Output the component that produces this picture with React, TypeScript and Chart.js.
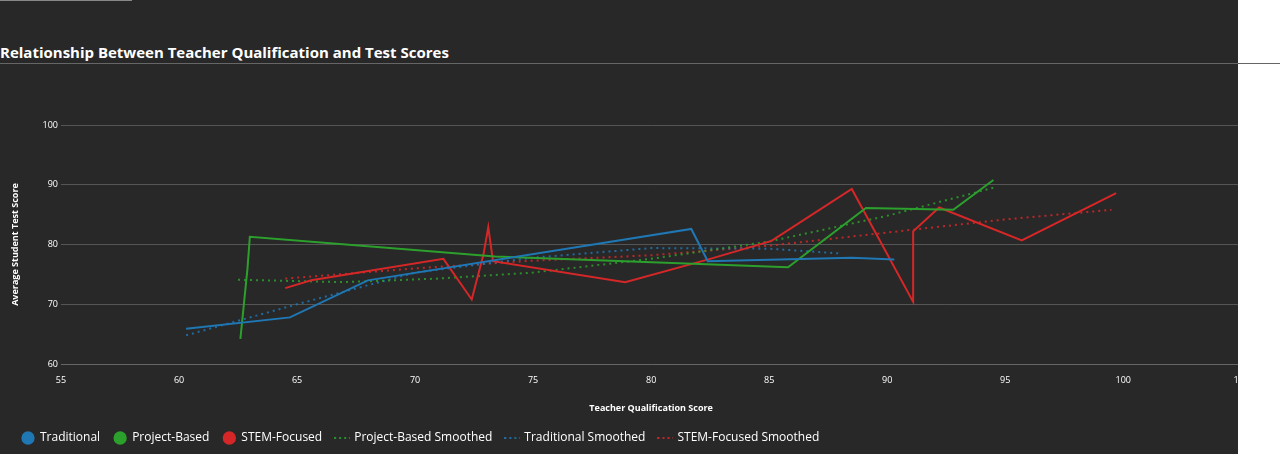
import React from "react"
import { Chart, registerables } from "chart.js"

Chart.register(...registerables)

const traditional = [
  { x: 60.3, y: 65.9 }, { x: 64.7, y: 67.8 }, { x: 68.0, y: 74.0 }, { x: 81.7, y: 82.6 },
  { x: 82.4, y: 77.2 }, { x: 88.5, y: 77.8 }, { x: 90.3, y: 77.5 },
]
const projectBased = [
  { x: 62.6, y: 64.2 }, { x: 62.9, y: 76.0 }, { x: 63.0, y: 81.3 }, { x: 73.4, y: 78.0 },
  { x: 85.8, y: 76.2 }, { x: 89.1, y: 86.1 }, { x: 92.8, y: 85.8 }, { x: 94.5, y: 90.8 },
]
const stemFocused = [
  { x: 64.5, y: 72.7 }, { x: 65.6, y: 74.0 }, { x: 71.2, y: 77.6 }, { x: 72.4, y: 70.8 },
  { x: 72.9, y: 78.4 }, { x: 73.1, y: 82.9 }, { x: 73.3, y: 77.2 }, { x: 78.9, y: 73.7 },
  { x: 82.5, y: 77.6 }, { x: 85.1, y: 80.6 }, { x: 88.5, y: 89.3 }, { x: 91.1, y: 70.4 },
  { x: 91.1, y: 82.2 }, { x: 92.2, y: 86.2 }, { x: 95.7, y: 80.7 }, { x: 99.7, y: 88.6 },
]
const projectSmoothed = [
  { x: 62.5, y: 74.1 }, { x: 67, y: 73.7 }, { x: 71, y: 74.3 }, { x: 75, y: 75.3 },
  { x: 80, y: 77.6 }, { x: 85, y: 80.5 }, { x: 90, y: 84.8 }, { x: 94.5, y: 89.5 },
]
const traditionalSmoothed = [
  { x: 60.3, y: 64.8 }, { x: 65, y: 70.0 }, { x: 70, y: 75.3 }, { x: 75, y: 77.8 },
  { x: 80, y: 79.4 }, { x: 85, y: 79.3 }, { x: 88, y: 78.5 },
]
const stemSmoothed = [
  { x: 64.5, y: 74.3 }, { x: 70, y: 76.0 }, { x: 75, y: 77.3 }, { x: 80, y: 78.2 },
  { x: 85, y: 79.8 }, { x: 90, y: 82.0 }, { x: 95, y: 84.2 }, { x: 99.5, y: 85.8 },
]

const BLUE = "#1f77b4"
const GREEN = "#2ca02c"
const RED = "#d62728"
const FONT = "'Open Sans', 'DejaVu Sans', sans-serif"

// small dashed swatch for the legend
const dashIcon = (color: string) => {
  const c = document.createElement("canvas")
  c.width = 16
  c.height = 4
  const ctx = c.getContext("2d")!
  ctx.strokeStyle = color
  ctx.lineWidth = 2
  ctx.setLineDash([2, 3])
  ctx.beginPath()
  ctx.moveTo(0, 2)
  ctx.lineTo(16, 2)
  ctx.stroke()
  return c
}

const solid = (label: string, data: any, color: string) => ({
  label, data, borderColor: color, backgroundColor: color, borderWidth: 2,
  pointRadius: 0, pointStyle: "circle", tension: 0,
})
const dotted = (label: string, data: any, color: string) => ({
  label, data, borderColor: color, backgroundColor: color, borderWidth: 2,
  borderDash: [2, 4], pointRadius: 0, pointStyle: dashIcon(color), tension: 0,
})

const ScoreChart = () => {
  const ref = React.useRef<HTMLCanvasElement>(null)

  React.useEffect(() => {
    if (ref.current == null) return
    const chart = new Chart(ref.current, {
      type: "line",
      data: {
        datasets: [
          solid("Traditional", traditional, BLUE),
          solid("Project-Based", projectBased, GREEN),
          solid("STEM-Focused", stemFocused, RED),
          dotted("Project-Based Smoothed", projectSmoothed, "rgba(44,160,44,0.85)"),
          dotted("Traditional Smoothed", traditionalSmoothed, "rgba(31,119,180,0.85)"),
          dotted("STEM-Focused Smoothed", stemSmoothed, "rgba(214,39,40,0.85)"),
        ] as any,
      },
      options: {
        animation: false,
        responsive: false,
        layout: { padding: { top: 55, left: 8, right: 0, bottom: 0 } },
        plugins: {
          tooltip: { enabled: false },
          legend: {
            position: "bottom",
            align: "start",
            labels: {
              usePointStyle: true,
              boxHeight: 8,
              color: "#ffffff",
              font: { family: FONT, size: 12 },
              padding: 14,
            },
          },
        },
        scales: {
          x: {
            type: "linear",
            min: 55,
            max: 105,
            ticks: { stepSize: 5, color: "#ffffff", font: { family: FONT, size: 9 } },
            grid: { display: false, drawTicks: true, tickColor: "#666" } as any,
            border: { color: "#666" },
            title: { display: true, text: "Teacher Qualification Score", color: "#ffffff", font: { family: FONT, size: 9, weight: "bold" } },
            afterFit: (s: any) => { s.height = 54 },
          },
          y: {
            min: 60,
            max: 100,
            ticks: { stepSize: 10, color: "#ffffff", font: { family: FONT, size: 9 } },
            grid: { color: "#555555", drawTicks: false },
            border: { display: false },
            title: { display: true, text: "Average Student Test Score", color: "#ffffff", font: { family: FONT, size: 9, weight: "bold" }, padding: { top: 2, bottom: 4 } },
            afterFit: (s: any) => { s.width = 53 },
          },
        },
      },
    })
    return () => chart.destroy()
  }, [])

  return (
    <div style={{ position: "absolute", top: 70, left: 0, width: 1238, height: 384, overflow: "hidden" }}>
      <canvas ref={ref} width={1252} height={384} style={{ display: "block" }} />
    </div>
  )
}

export default function App() {
  React.useEffect(() => { document.body.style.margin = "0" }, [])
  return (
    <div style={{ position: "relative", width: 1280, height: 454, background: "#ffffff", overflow: "hidden" }}>
      <div style={{ position: "absolute", left: 0, top: 0, width: 1238, height: 454, background: "#282828" }} />
      <div style={{ position: "absolute", left: 0, top: 0, width: 132, height: 1, background: "#888" }} />
      <div style={{ position: "absolute", left: 0, top: 42, color: "#fff", fontFamily: FONT, fontWeight: "bold", fontSize: 15, whiteSpace: "nowrap" }}>
        Relationship Between Teacher Qualification and Test Scores
      </div>
      <div style={{ position: "absolute", left: 0, top: 63, width: 1280, height: 1, background: "#666" }} />
      <ScoreChart />
    </div>
  )
}
